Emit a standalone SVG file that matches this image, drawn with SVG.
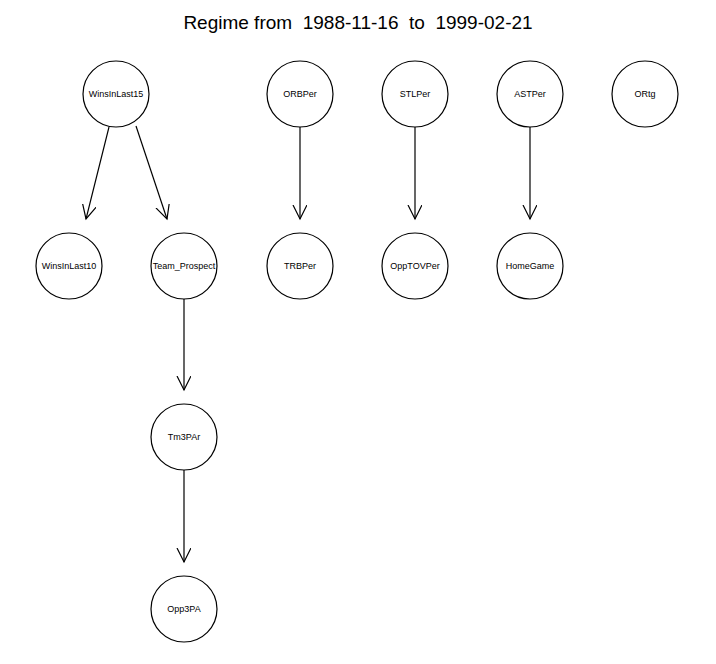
<svg xmlns="http://www.w3.org/2000/svg" width="716" height="664" viewBox="0 0 716 664">
<style>
.n{fill:#fff;stroke:#000;stroke-width:1.2}
.t{font-family:"Liberation Sans",Arial,sans-serif;font-size:9px;text-anchor:middle;dominant-baseline:central}
.e{stroke:#000;stroke-width:1.2;fill:none}
.title{font-family:"Liberation Sans",Arial,sans-serif;font-size:19px;text-anchor:middle;white-space:pre}
</style>
<defs>
<marker id="a" markerWidth="16" markerHeight="16" refX="14" refY="7" orient="auto" markerUnits="userSpaceOnUse">
<path d="M0,0 L14,7 L0,14" fill="none" stroke="#000" stroke-width="1.2"/>
</marker>
</defs>
<rect width="716" height="664" fill="#fff"/>
<text class="title" x="358" y="29" xml:space="preserve">Regime from  1988-11-16  to  1999-02-21</text>
<g id="edges">
<line class="e" x1="109" y1="127" x2="86" y2="219" marker-end="url(#a)"/>
<line class="e" x1="136" y1="126" x2="167" y2="219" marker-end="url(#a)"/>
<line class="e" x1="300" y1="127" x2="300" y2="219" marker-end="url(#a)"/>
<line class="e" x1="415" y1="127" x2="415" y2="219" marker-end="url(#a)"/>
<line class="e" x1="530" y1="127" x2="530" y2="219" marker-end="url(#a)"/>
<line class="e" x1="184" y1="299" x2="184" y2="390" marker-end="url(#a)"/>
<line class="e" x1="184" y1="470" x2="184" y2="562" marker-end="url(#a)"/>
</g>
<g id="WinsInLast15"><circle class="n" cx="116" cy="94" r="33"/><text class="t" x="116" y="94">WinsInLast15</text></g>
<g id="ORBPer"><circle class="n" cx="300" cy="94" r="33"/><text class="t" x="300" y="94">ORBPer</text></g>
<g id="STLPer"><circle class="n" cx="415" cy="94" r="33"/><text class="t" x="415" y="94">STLPer</text></g>
<g id="ASTPer"><circle class="n" cx="530" cy="94" r="33"/><text class="t" x="530" y="94">ASTPer</text></g>
<g id="ORtg"><circle class="n" cx="645" cy="94" r="33"/><text class="t" x="645" y="94">ORtg</text></g>
<g id="WinsInLast10"><circle class="n" cx="69" cy="266" r="33"/><text class="t" x="69" y="266">WinsInLast10</text></g>
<g id="Team_Prospect"><circle class="n" cx="184" cy="266" r="33"/><text class="t" x="184" y="266">Team_Prospect</text></g>
<g id="TRBPer"><circle class="n" cx="300" cy="266" r="33"/><text class="t" x="300" y="266">TRBPer</text></g>
<g id="OppTOVPer"><circle class="n" cx="415" cy="266" r="33"/><text class="t" x="415" y="266">OppTOVPer</text></g>
<g id="HomeGame"><circle class="n" cx="530" cy="266" r="33"/><text class="t" x="530" y="266">HomeGame</text></g>
<g id="Tm3PAr"><circle class="n" cx="184" cy="437" r="33"/><text class="t" x="184" y="437">Tm3PAr</text></g>
<g id="Opp3PA"><circle class="n" cx="184" cy="609" r="33"/><text class="t" x="184" y="609">Opp3PA</text></g>
</svg>
